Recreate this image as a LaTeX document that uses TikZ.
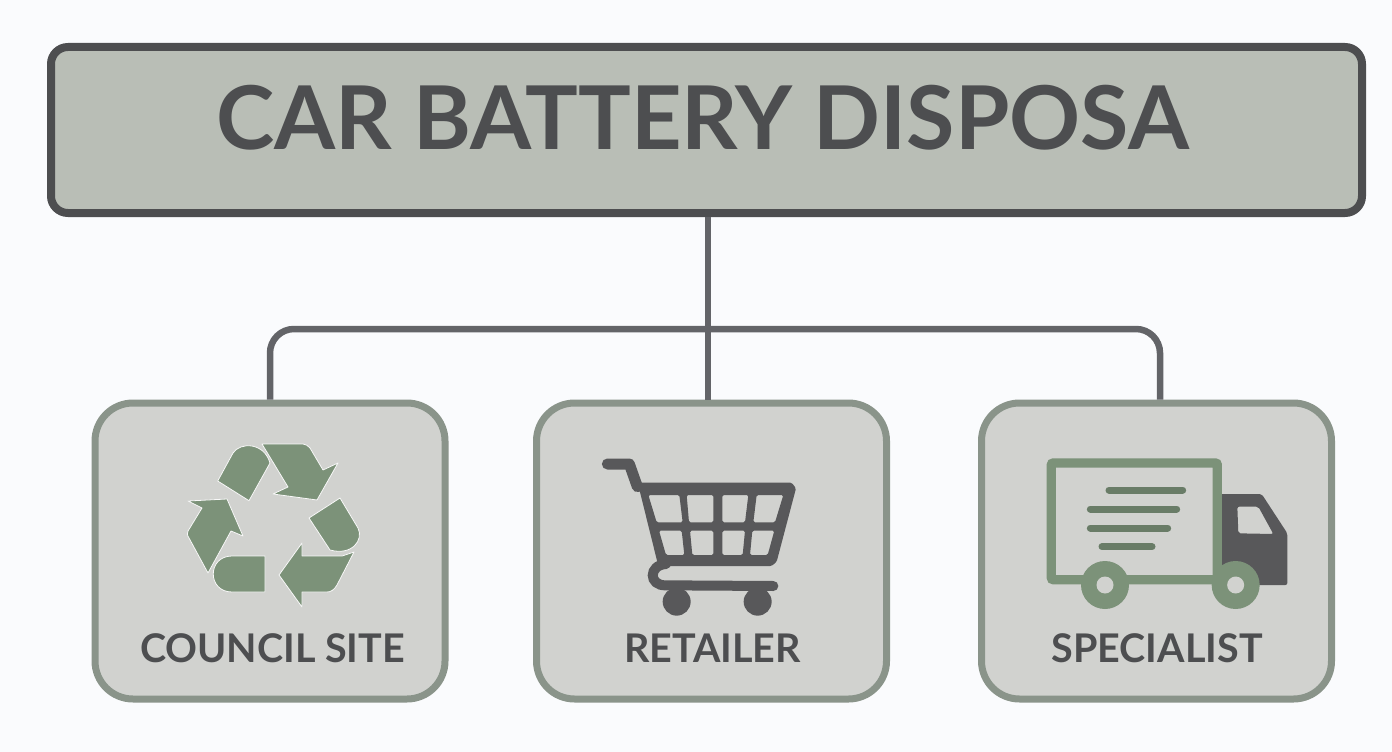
\documentclass[tikz,border=0pt]{standalone}
\usepackage{fontspec}
\setmainfont{Lato}
\definecolor{pageBg}{HTML}{FAFBFD}
\definecolor{titleFill}{HTML}{B9BEB6}
\definecolor{inkDark}{HTML}{4D4E50}
\definecolor{wireGrey}{HTML}{636468}
\definecolor{cardFill}{HTML}{D1D2CF}
\definecolor{cardEdge}{HTML}{8A948A}
\definecolor{iconGreen}{HTML}{7C9279}
\definecolor{iconDark}{HTML}{58585A}
\tikzset{
    titlebox/.style={draw=inkDark, fill=titleFill, line width=8pt, rounded corners=17pt, minimum width=1311pt, minimum height=166pt, inner sep=0pt},
    cardbox/.style={draw=cardEdge, fill=cardFill, line width=7pt, rounded corners=38pt, minimum width=350pt, minimum height=296pt, inner sep=0pt},
    cardlabel/.style={text=inkDark, font=\fontsize{39.5}{40}\selectfont\bfseries, inner sep=0pt},
    wire/.style={draw=wireGrey, line width=6.5pt},
    recycleshape/.style={fill=iconGreen, draw=white!85!cardFill, line width=0.8pt, line join=round},
}
\begin{document}
\begin{tikzpicture}[x=1pt, y=-1pt]
    \fill[pageBg] (0, 0) rectangle (1392, 752);
    \useasboundingbox (0, 0) rectangle (1392, 752);
    \node[titlebox] (title) at (706.5, 130) {};
    \node[text=inkDark, font=\fontsize{88}{88}\selectfont\bfseries, inner sep=0pt] (titletext) at (702.5, 118) {CAR BATTERY DISPOSA};
    \node[cardbox] (council) at (270, 551) {};
    \node[cardbox] (retailer) at (711.5, 551) {};
    \node[cardbox] (specialist) at (1156.5, 551) {};
    \coordinate (hub) at (708, 329);
    \coordinate (drop) at (1160, 329);
    \draw[wire] (hub |- title.south) -- (hub |- retailer.north);
    \draw[wire, rounded corners=24pt] (council.north) -- (council.north |- hub) -- (hub) -- (drop) -- (drop |- specialist.north);
    \node[cardlabel] (councillabel) at (272.5, 648) {COUNCIL SITE};
    \node[cardlabel] (retailerlabel) at (712.5, 648) {RETAILER};
    \node[cardlabel] (specialistlabel) at (1157, 648) {SPECIALIST};
    % recycle icon
    \fill[recycleshape] (217.7, 481) -- (233, 453) .. controls (240, 442) and (264, 442) .. (270, 463) -- (249, 500.7) -- cycle;
    \fill[recycleshape] (262, 444) -- (303, 444) .. controls (306, 444) and (308, 446) .. (310, 448) -- (323, 470) -- (338, 463) -- (317, 500) -- (273, 494) -- (288, 487) -- cycle;
    \fill[recycleshape] (309, 518) -- (340, 498) -- (358, 528) .. controls (364, 540) and (352, 556) .. (330, 550) -- cycle;
    \fill[recycleshape] (354, 552) -- (337, 585) .. controls (334, 590) and (331, 592) .. (327, 592) -- (302, 592) -- (302, 607) -- (279, 575) -- (302, 543) -- (302, 556) -- (342, 556) -- cycle;
    \fill[recycleshape] (265, 556) -- (232, 556) .. controls (207, 556) and (207, 592) .. (232, 592) -- (265, 592) -- cycle;
    \fill[recycleshape] (188, 501) -- (227, 499) -- (243, 536) -- (231, 531) -- (208, 573) -- (189, 538) .. controls (187, 535) and (187, 533) .. (188, 531) -- (202, 508) -- cycle;
    % cart icon
    \begin{scope}[shift={(590, 440)}, x=1pt/3, y=-1pt/3]
        \draw[iconDark, line width=11pt, line cap=round, line join=round] (52, 72) -- (118, 72) -- (142, 140);
        \fill[iconDark, even odd rule, rounded corners=1.5pt]
            (143, 128) -- (605, 128) -- (618, 145) -- (560, 365) -- (545, 378) -- (205, 378) -- cycle
            (175, 165) -- (268, 165) -- (278, 247) -- (200, 247) -- cycle
            (290, 165) -- (370, 165) -- (370, 247) -- (297, 247) -- cycle
            (397, 165) -- (475, 165) -- (465, 247) -- (397, 247) -- cycle
            (500, 165) -- (580, 165) -- (555, 247) -- (490, 247) -- cycle
            (207, 272) -- (275, 272) -- (283, 345) -- (228, 345) -- cycle
            (300, 272) -- (370, 272) -- (370, 345) -- (307, 345) -- cycle
            (397, 272) -- (465, 272) -- (458, 345) -- (397, 345) -- cycle
            (487, 272) -- (553, 272) -- (533, 345) -- (480, 345) -- cycle;
        \draw[iconDark, line width=10pt, line cap=round] (228, 372) .. controls (175, 375) and (175, 438) .. (228, 436) -- (550, 438);
        \foreach \wheelX in {260, 503}
            \fill[iconDark] (\wheelX, 485) circle[radius=14pt];
    \end{scope}
    % truck icon
    \begin{scope}[shift={(1030, 445)}, x=1pt/3, y=-1pt/3]
        \fill[iconDark, even odd rule, rounded corners=2pt]
            (570, 147) -- (695, 147) -- (772, 265) -- (772, 420) -- (570, 420) -- cycle
            (622, 185) -- (685, 185) -- (730, 267) -- (625, 265) -- cycle;
        \draw[iconGreen, line width=9.3pt, rounded corners=2pt] (64, 54) rectangle (562, 404);
        \foreach \barY/\barA/\barB in {135/237/458, 192/181/440, 249/181/413, 305/216/366}
            \draw[iconGreen!85!black, line width=7pt, line cap=round] (\barA, \barY) -- (\barB, \barY);
        \foreach \wheelX in {225, 617} {
            \fill[iconGreen] (\wheelX, 420) circle[radius=24pt];
            \fill[cardFill] (\wheelX, 420) circle[radius=8.5pt];
        }
    \end{scope}
\end{tikzpicture}
\end{document}
